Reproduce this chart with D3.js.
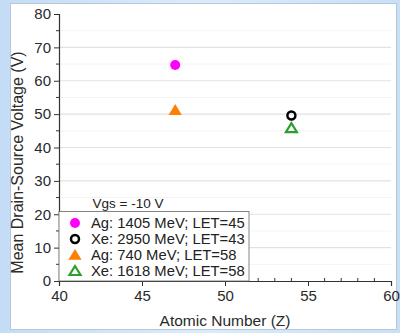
<!DOCTYPE html>
<html>
<head>
<meta charset="utf-8">
<script src="https://cdn.jsdelivr.net/npm/d3@7"></script>
<style>
  html, body { margin: 0; padding: 0; }
  body {
    width: 400px; height: 333px; overflow: hidden;
    background: linear-gradient(90deg, #c4dcf6 0%, #dcebfa 50%, #c9dff7 100%);
    font-family: "Liberation Sans", Arial, sans-serif;
  }
</style>
</head>
<body>
<div id="chart"></div>
<script>
// Data
const ions = ['Ag: 1405 MeV; LET=45', 'Xe: 2950 MeV; LET=43', 'Ag: 740 MeV; LET=58', 'Xe: 1618 MeV; LET=58'];
const atomicNumber = [47, 54, 47, 54];
const drainVoltage = [64.7, 49.6, 51.2, 45.8];
const xTicks = [40, 45, 50, 55, 60];
const yTicks = [0, 10, 20, 30, 40, 50, 60, 70, 80];
const legendTitle = 'Vgs = -10 V';

const markerStyles = [
  { shape: 'circle', fill: '#ff00ff', stroke: 'none' },
  { shape: 'circle', fill: 'none', stroke: '#000000' },
  { shape: 'triangle', fill: '#ff7f00', stroke: 'none' },
  { shape: 'triangle', fill: 'none', stroke: '#2ca02c' }
];

const W = 400, H = 333;
const margin = { left: 59, right: 9, top: 14, bottom: 52 };

let svg = d3.select('#chart')
            .append('svg')
            .attr('width', W)
            .attr('height', H);

// white panel
svg.append('rect')
   .attr('x', 10.5).attr('y', 3.5)
   .attr('width', 386).attr('height', 326)
   .attr('fill', '#ffffff')
   .attr('stroke', '#b8c8dc');

let x = d3.scaleLinear().domain([40, 60]).range([margin.left, W - margin.right]);
let y = d3.scaleLinear().domain([0, 80]).range([H - margin.bottom, margin.top]);

// faint minor gridlines
svg.append('g')
   .selectAll('line')
   .data(d3.range(5, 80, 10))
   .enter()
   .append('line')
   .attr('x1', x(40)).attr('x2', x(60))
   .attr('y1', d => y(d)).attr('y2', d => y(d))
   .attr('stroke', '#f3f3f3');

// major gridlines
svg.append('g')
   .selectAll('line')
   .data(yTicks.filter(d => d > 0 && d < 80))
   .enter()
   .append('line')
   .attr('x1', x(40)).attr('x2', x(60))
   .attr('y1', d => y(d)).attr('y2', d => y(d))
   .attr('stroke', '#e2e2e2')
   .attr('stroke-width', 1.2);

// y axis
let yAxis = svg.append('g')
   .attr('transform', `translate(${x(40)},0)`)
   .call(d3.axisLeft(y).tickValues(yTicks).tickSize(5).tickPadding(3));
yAxis.append('g')
   .selectAll('line')
   .data(d3.range(5, 80, 10))
   .enter()
   .append('line')
   .attr('x1', -3).attr('x2', 0)
   .attr('y1', d => y(d)).attr('y2', d => y(d))
   .attr('stroke', '#333');

// x axis
let xAxis = svg.append('g')
   .attr('transform', `translate(0,${y(0)})`)
   .call(d3.axisBottom(x).tickValues(xTicks).tickSize(5).tickPadding(4));
xAxis.append('g')
   .selectAll('line')
   .data(d3.range(41, 60).filter(d => d % 5 !== 0))
   .enter()
   .append('line')
   .attr('x1', d => x(d)).attr('x2', d => x(d))
   .attr('y1', -3).attr('y2', 0)
   .attr('stroke', '#333');

svg.selectAll('.domain').attr('stroke', '#333').attr('stroke-width', 1.2);
svg.selectAll('.tick line').attr('stroke', '#333');
svg.selectAll('.tick text')
   .attr('font-family', '"Liberation Sans", Arial, sans-serif')
   .attr('font-size', 15)
   .attr('fill', '#2a2a2a');

// axis labels
svg.append('text')
   .attr('x', x(50)).attr('y', 326)
   .attr('text-anchor', 'middle')
   .attr('font-size', 15.5)
   .attr('fill', '#2a2a2a')
   .text('Atomic Number (Z)');

svg.append('text')
   .attr('transform', `translate(23,${y(35.5)}) rotate(-90)`)
   .attr('text-anchor', 'middle')
   .attr('font-size', 16)
   .attr('fill', '#2a2a2a')
   .text('Mean Drain-Source Voltage (V)');

function drawMarker(g, style, cx, cy) {
  if (style.shape === 'circle') {
    g.append('circle')
     .attr('cx', cx).attr('cy', cy)
     .attr('r', style.fill === 'none' ? 4 : 5)
     .attr('fill', style.fill)
     .attr('stroke', style.stroke)
     .attr('stroke-width', 2.5);
  } else {
    let s = style.fill === 'none' ? 5 : 6;
    g.append('path')
     .attr('d', `M${cx},${cy - s} L${cx + s * 1.1},${cy + s * 0.8} L${cx - s * 1.1},${cy + s * 0.8} Z`)
     .attr('fill', style.fill)
     .attr('stroke', style.stroke)
     .attr('stroke-width', 2.2)
     .attr('stroke-linejoin', 'miter');
  }
}

// data points
let points = svg.append('g');
ions.forEach((ion, i) => {
  drawMarker(points, markerStyles[i], x(atomicNumber[i]), y(drainVoltage[i]));
});

// legend
let legend = svg.append('g');
legend.append('text')
   .attr('x', 128).attr('y', 208)
   .attr('text-anchor', 'middle')
   .attr('font-size', 13.5)
   .attr('fill', '#222')
   .text(legendTitle);
legend.append('rect')
   .attr('x', x(40)).attr('y', 211.5)
   .attr('width', 190).attr('height', y(0) - 211.5)
   .attr('fill', '#ffffff')
   .attr('stroke', '#666')
   .attr('stroke-width', 0.8);
ions.forEach((ion, i) => {
  let ly = 223 + i * 16;
  drawMarker(legend, markerStyles[i], 75, ly);
  legend.append('text')
     .attr('x', 91).attr('y', ly + 5)
     .attr('font-size', 14.8)
     .attr('fill', '#222')
     .text(ion);
});
</script>
</body>
</html>
